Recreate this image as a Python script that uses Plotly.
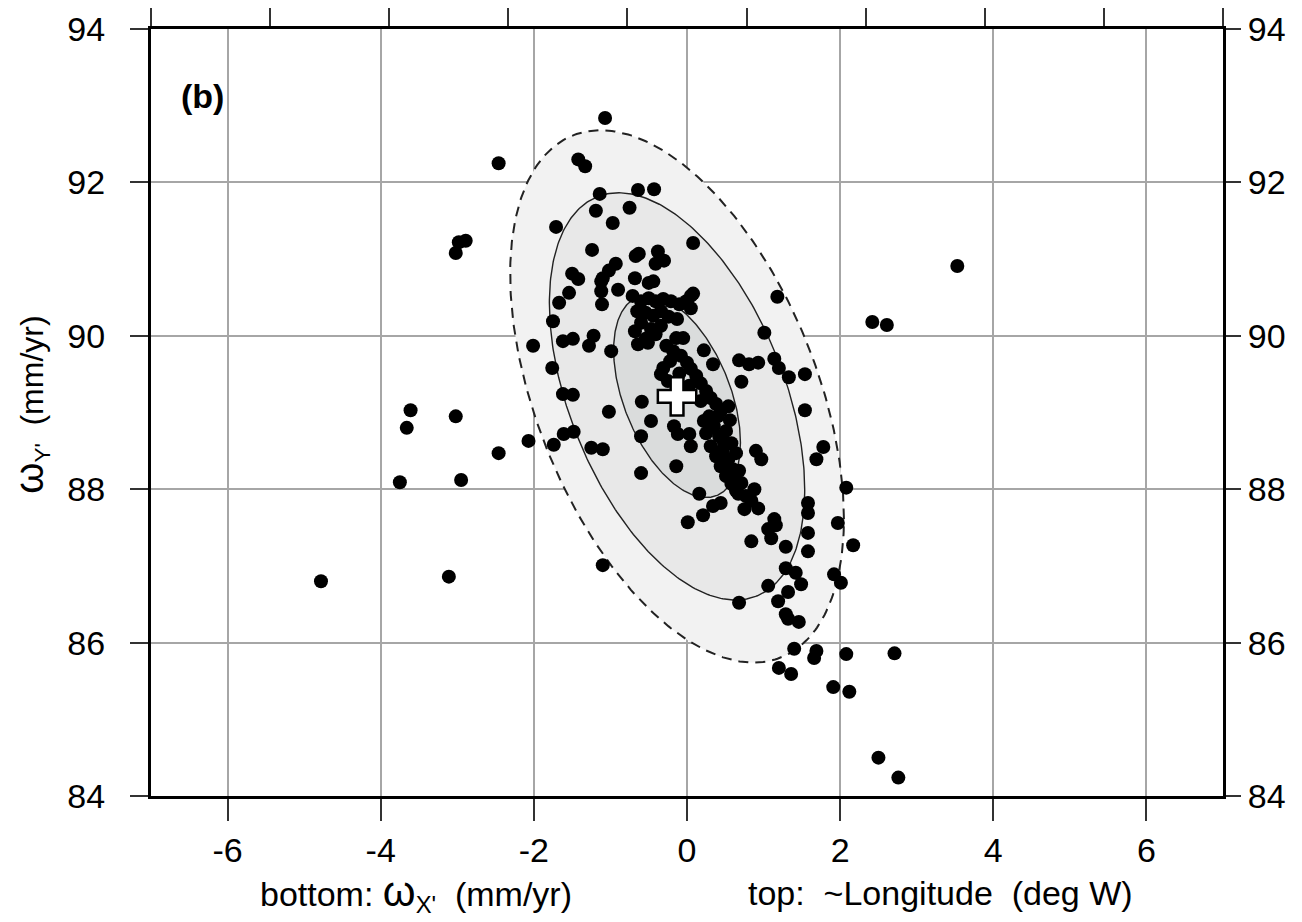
import numpy as np
import plotly.graph_objects as go

# ---------------- data ----------------
pts_x = [
    -4.78, -3.75, -3.66, -3.61, -3.02, -2.95, -3.11, -3.02, -2.98, -2.89, -2.46, -2.46, -2.07, -2.01,
    -1.07, -1.42, -1.33,
    3.53, 2.42, 2.61, 2.71, 2.50, 2.76, 1.91, 2.12, 2.08, 1.69, 1.66, 1.40, 1.20, 1.36, 0.68, 1.19,
    1.32, 1.06, 1.29, 1.32, 1.46, 1.29, 1.42, 1.49, 1.92, 2.01, 2.17, 2.08, 1.97, 1.58, 1.58, 1.58,
    1.58, 1.29, 0.84, 1.10, 1.06, 1.16, 1.14, 0.01, 0.21, 0.34, 0.44, 0.75, 0.93, 0.84, 0.88, 0.61,
    0.58, 0.67, 0.16, -0.14, -0.60, 0.90, 0.97, 1.69, 1.78, 1.54, -1.10, -1.02, -1.25, -1.10, -1.61,
    -1.48, -1.74, -0.60, -0.47, -0.17, -0.12, 0.03, 0.05,
    -1.14, -0.64, -0.43, -1.19, -0.75, -0.97, -1.71, -1.24, 0.08, -0.67, -0.63, -0.38, -0.30, -0.41,
    -0.93, -1.02, -1.10, -1.50, -1.42, -1.12, -1.12, -1.11, -1.54, -1.67, -0.90, -0.68, -0.50, -0.44,
    -1.75, 1.18, 0.08, 0.05, -1.62, -1.49, -1.22, -1.28, -0.99, -1.76, -0.64, -0.51, -0.14, -0.05,
    0.22, 0.34, 0.68, 0.81, 0.93, 1.01, 1.14, 1.20, 1.33, 1.54, 0.71, -0.31, -0.34, -0.25, -0.59,
    -1.62, -1.49,
    -0.71, -0.60, -0.50, -0.41, -0.31, -0.21, -0.10, -0.01, 0.05, -0.65, -0.54, -0.44, -0.34, -0.24,
    -0.13, -0.60, -0.47, -0.34, -0.68, -0.54, -0.41,
    -0.27, -0.18, -0.08, -0.22, 0.00, 0.05, -0.10, 0.12, 0.18, 0.03, 0.25, 0.31, 0.18, 0.38, 0.44,
    0.29, 0.54, 0.35, 0.25, 0.42, 0.51, 0.31, 0.47, 0.58, 0.38, 0.54, 0.64, 0.44, 0.60, 0.68, 0.51,
    0.71, 0.64, 0.77, 0.22, 0.40, 0.56, 0.48,
]
pts_y = [
    86.80, 88.09, 88.80, 89.03, 88.95, 88.12, 86.86, 91.08, 91.22, 91.24, 92.25, 88.47, 88.63, 89.87,
    92.84, 92.30, 92.21,
    90.91, 90.18, 90.14, 85.86, 84.50, 84.24, 85.42, 85.36, 85.85, 85.89, 85.80, 85.92, 85.67, 85.59,
    86.52, 86.54, 86.66, 86.74, 86.37, 86.31, 86.27, 86.97, 86.91, 86.76, 86.89, 86.78, 87.27, 88.02,
    87.56, 87.82, 87.69, 87.43, 87.19, 87.25, 87.32, 87.36, 87.48, 87.53, 87.61, 87.57, 87.66, 87.78,
    87.82, 87.74, 87.75, 87.85, 88.00, 88.13, 88.07, 87.94, 87.94, 88.30, 88.21, 88.50, 88.39, 88.39,
    88.55, 89.03, 87.01, 89.01, 88.54, 88.52, 88.72, 88.75, 88.58, 88.69, 88.89, 88.82, 88.72, 88.72,
    88.56,
    91.85, 91.90, 91.91, 91.63, 91.67, 91.47, 91.42, 91.12, 91.21, 91.04, 91.07, 91.10, 90.98, 90.94,
    90.94, 90.85, 90.75, 90.81, 90.74, 90.71, 90.58, 90.41, 90.56, 90.43, 90.60, 90.75, 90.69, 90.71,
    90.19, 90.51, 90.55, 90.36, 89.93, 89.96, 90.00, 89.87, 89.80, 89.58, 89.89, 89.91, 89.97, 89.97,
    89.81, 89.63, 89.68, 89.63, 89.65, 90.04, 89.70, 89.58, 89.46, 89.50, 89.40, 89.58, 89.50, 89.41,
    89.14, 89.24, 89.23,
    90.52, 90.45, 90.49, 90.45, 90.48, 90.45, 90.41, 90.45, 90.52, 90.32, 90.30, 90.26, 90.32, 90.25,
    90.22, 90.17, 90.09, 90.13, 90.06, 89.96, 90.02,
    89.87, 89.80, 89.74, 89.67, 89.65, 89.57, 89.51, 89.48, 89.38, 89.35, 89.28, 89.19, 89.15, 89.11,
    89.02, 88.95, 89.08, 88.82, 88.73, 88.69, 88.76, 88.56, 88.52, 88.60, 88.43, 88.39, 88.47, 88.30,
    88.26, 88.24, 88.17, 88.08, 87.98, 87.91, 88.89, 88.95, 88.90, 88.62,
]

center_x = -0.13
center_y = 89.21
cov_xx, cov_yy, cov_xy = 4.75, 12.04, -3.47     # outer ellipse shape
ellipse_scales = [1.0, 0.765, 0.38]
ellipse_fills = ["#f2f2f2", "#e8e8e8", "#dadcdc"]
ellipse_dash = ["dash", "solid", "solid"]
ellipse_lw = [2.0, 1.4, 1.4]

x_ticks = [-6, -4, -2, 0, 2, 4, 6]
x_ticklabels = ["-6", "-4", "-2", "0", "2", "4", "6"]
y_ticks = [84, 86, 88, 90, 92, 94]
y_ticklabels = ["84", "86", "88", "90", "92", "94"]
top_ticks = list(range(10))

FONT = "Liberation Sans, Arial, Helvetica, sans-serif"

fig = go.Figure()

# ellipses
a = np.sqrt(cov_xx)
b = cov_xy / a
c = np.sqrt(cov_yy - b * b)
t = np.linspace(0, 2 * np.pi, 361)
for s, fc, dsh, lw in zip(ellipse_scales, ellipse_fills, ellipse_dash, ellipse_lw):
    ex = center_x + s * a * np.cos(t)
    ey = center_y + s * (b * np.cos(t) + c * np.sin(t))
    fig.add_trace(go.Scatter(
        x=ex, y=ey, mode="lines", fill="toself", fillcolor=fc,
        line=dict(color="#222222", width=lw, dash=dsh if dsh == "solid" else "10px,7px"),
        hoverinfo="skip", showlegend=False))

# points
fig.add_trace(go.Scatter(
    x=pts_x, y=pts_y, mode="markers",
    marker=dict(color="black", size=14, line=dict(width=0)),
    showlegend=False))

# center cross
fig.add_trace(go.Scatter(
    x=[center_x], y=[center_y], mode="markers",
    marker=dict(symbol="cross", size=32, color="white", line=dict(color="black", width=2.5)),
    showlegend=False))

# dummy trace for secondary axes
fig.add_trace(go.Scatter(x=[None], y=[None], xaxis="x2", yaxis="y2", showlegend=False))

tickfont = dict(family=FONT, size=34, color="black")
fig.update_layout(
    width=1294, height=914,
    margin=dict(l=143, r=79, t=21, b=126, autoexpand=False),
    paper_bgcolor="white", plot_bgcolor="white",
    showlegend=False,
    xaxis=dict(range=[-7, 7], tickvals=x_ticks, ticktext=x_ticklabels, ticks="outside", ticklen=22,
               tickwidth=1.5, tickcolor="#333", showline=True, linewidth=3, linecolor="black",
               showgrid=True, gridcolor="#a6a6a6", gridwidth=1.5, zeroline=False,
               tickfont=tickfont, anchor="y", automargin=False),
    xaxis2=dict(range=[0, 9], tickvals=top_ticks, ticks="outside", ticklen=20, tickwidth=1.5,
                tickcolor="#333", showline=True, linewidth=3, linecolor="black",
                showgrid=False, zeroline=False, showticklabels=False,
                overlaying="x", side="top", anchor="y", automargin=False),
    yaxis=dict(range=[84, 94], tickvals=y_ticks, ticktext=y_ticklabels, ticks="outside", ticklen=18,
               tickwidth=1.5, tickcolor="#333", showline=True, linewidth=3, linecolor="black",
               showgrid=True, gridcolor="#a6a6a6", gridwidth=1.5, zeroline=False,
               tickfont=tickfont, anchor="x", automargin=False, ticklabelstandoff=18),
    yaxis2=dict(range=[84, 94], tickvals=y_ticks, ticktext=y_ticklabels, ticks="outside", ticklen=15,
                tickwidth=1.5, tickcolor="#333", showline=True, linewidth=3, linecolor="black",
                showgrid=False, zeroline=False, tickfont=tickfont,
                overlaying="y", side="right", anchor="x", automargin=False),
)

# panel label
fig.add_annotation(x=-6.33, y=93.13, xref="x", yref="y", text="<b>(b)</b>", showarrow=False,
                   font=dict(family=FONT, size=34, color="black"))

# axis titles
fig.add_annotation(x=0.10, y=-0.127, xref="paper", yref="paper", xanchor="left", yanchor="middle",
                   text="bottom: <span style='font-size:42px'>ω</span><sub>X'</sub>&nbsp;&nbsp;(mm/yr)",
                   showarrow=False, font=dict(family=FONT, size=34, color="black"))
fig.add_annotation(x=0.555, y=-0.127, xref="paper", yref="paper", xanchor="left", yanchor="middle",
                   text="top:&nbsp;&nbsp;~Longitude&nbsp;&nbsp;(deg W)",
                   showarrow=False, font=dict(family=FONT, size=34, color="black"))
fig.add_annotation(x=-0.112, y=0.51, xref="paper", yref="paper", xanchor="center", yanchor="middle",
                   textangle=-90,
                   text="<span style='font-size:40px'>ω</span><sub>Y'</sub>&nbsp;&nbsp;(mm/yr)",
                   showarrow=False, font=dict(family=FONT, size=32, color="black"))

fig.write_html("out.html")
